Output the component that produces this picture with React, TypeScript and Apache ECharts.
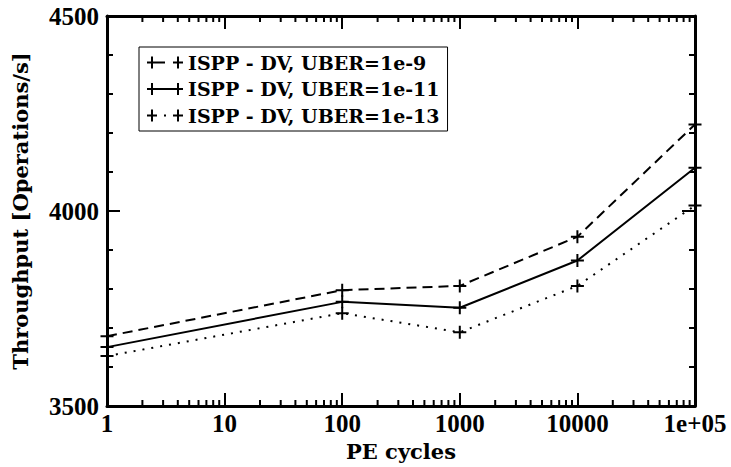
import React, { useEffect, useRef } from "react";
import * as echarts from "echarts";

// PE cycles (x, log scale)
const peCycles = [1, 100, 1000, 10000, 100000];
// Throughput [Operations/s]
const uber9 = [3679, 3797, 3808, 3934, 4222];
const uber11 = [3651, 3767, 3752, 3873, 4111];
const uber13 = [3628, 3738, 3689, 3808, 4014];

const seriesNames = [
  "ISPP - DV, UBER=1e-9",
  "ISPP - DV, UBER=1e-11",
  "ISPP - DV, UBER=1e-13",
];

const xTickLabels = ["1", "10", "100", "1000", "10000", "1e+05"];
const xMinorTicks = [
  2, 3, 4, 5, 6, 7, 8, 9,
  20, 30, 40, 50, 60, 70, 80, 90,
  200, 300, 400, 500, 600, 700, 800, 900,
  2000, 3000, 4000, 5000, 6000, 7000, 8000, 9000,
  20000, 30000, 40000, 50000, 60000, 70000, 80000, 90000,
];
const yMin = 3500;
const yMax = 4500;
const yInterval = 500;

const PLUS = "path://M5.5,0H7.5V5.5H13V7.5H7.5V13H5.5V7.5H0V5.5H5.5Z";
const PLUS_L = "M0,5H10V7H0Z M4,0H6V12H4Z";
const PLUS_R = "M26,5H36V7H26Z M30,0H32V12H30Z";
const ICON_DASH = `path://${PLUS_L} M10,5H18V7H10Z ${PLUS_R}`;
const ICON_SOLID = `path://${PLUS_L} M10,5H26V7H10Z ${PLUS_R}`;
const ICON_DOT = `path://${PLUS_L} M17,5H19V7H17Z ${PLUS_R}`;

const TIMES = "Liberation Serif";
const WIDE_SERIF = "DejaVu Serif";

export default function App() {
  const ref = useRef<HTMLDivElement>(null);

  useEffect(() => {
    if (!ref.current) return;
    const chart = echarts.init(ref.current, null, { renderer: "svg" });

    const axisLine = { show: true, lineStyle: { color: "#000", width: 3 } };
    const mkLine = (vals: number[]) => peCycles.map((x, i) => [x, vals[i]]);

    const lineSeries = (name: string, vals: number[], type: any) => ({
      name,
      type: "line",
      data: mkLine(vals),
      symbol: PLUS,
      symbolSize: 13,
      showSymbol: true,
      clip: false,
      itemStyle: { color: "#000" },
      lineStyle: { color: "#000", width: 2, type },
      z: 3,
    });

    chart.setOption({
      animation: false,
      backgroundColor: "#fff",
      grid: { left: 107, right: 36, top: 16, bottom: 61 },
      xAxis: [
        {
          type: "log",
          logBase: 10,
          min: 1,
          max: 100000,
          name: "PE cycles",
          nameLocation: "middle",
          nameGap: 31,
          nameTextStyle: {
            fontFamily: WIDE_SERIF,
            fontWeight: "bold",
            fontSize: 21,
            color: "#000",
          },
          axisLine,
          axisTick: { show: true, inside: true, length: 13, lineStyle: { color: "#000", width: 2 } },
          minorTick: { show: false },
          splitLine: { show: false },
          axisLabel: {
            margin: 5,
            fontFamily: TIMES,
            fontWeight: "bold",
            fontSize: 25,
            color: "#000",
            formatter: (v: number) => xTickLabels[Math.round(Math.log10(v))] ?? "",
          },
        },
        {
          type: "log",
          logBase: 10,
          min: 1,
          max: 100000,
          position: "top",
          axisLine,
          axisTick: { show: true, inside: true, length: 13, lineStyle: { color: "#000", width: 2 } },
          axisLabel: { show: false },
          splitLine: { show: false },
        },
      ],
      yAxis: [
        {
          type: "value",
          min: yMin,
          max: yMax,
          interval: yInterval,
          name: "Throughput [Operations/s]",
          nameLocation: "middle",
          nameGap: 76,
          nameTextStyle: {
            fontFamily: WIDE_SERIF,
            fontWeight: "bold",
            fontSize: 21,
            color: "#000",
          },
          axisLine,
          axisTick: { show: true, inside: true, length: 13, lineStyle: { color: "#000", width: 2 } },
          minorTick: { show: true, splitNumber: 5, length: 6, lineStyle: { color: "#000", width: 2 } },
          splitLine: { show: false },
          axisLabel: {
            margin: 8,
            fontFamily: TIMES,
            fontWeight: "bold",
            fontSize: 25,
            color: "#000",
            formatter: (v: number) => String(v),
          },
        },
        {
          type: "value",
          min: yMin,
          max: yMax,
          interval: yInterval,
          position: "right",
          axisLine,
          axisTick: { show: true, inside: true, length: 13, lineStyle: { color: "#000", width: 2 } },
          minorTick: { show: true, splitNumber: 5, length: 6, lineStyle: { color: "#000", width: 2 } },
          splitLine: { show: false },
          axisLabel: { show: false },
        },
      ],
      legend: {
        orient: "vertical",
        left: 139,
        top: 47,
        padding: [6, 8, 6, 8],
        itemGap: 7.5,
        itemWidth: 36,
        itemHeight: 12,
        borderColor: "#000",
        borderWidth: 1,
        backgroundColor: "#fff",
        selectedMode: false,
        textStyle: {
          fontFamily: WIDE_SERIF,
          fontWeight: "bold",
          fontSize: 19,
          color: "#000",
        },
        data: [
          { name: seriesNames[0], icon: ICON_DASH },
          { name: seriesNames[1], icon: ICON_SOLID },
          { name: seriesNames[2], icon: ICON_DOT },
        ],
      },
      series: [
        lineSeries(seriesNames[0], uber9, [10, 6]),
        lineSeries(seriesNames[1], uber11, "solid"),
        lineSeries(seriesNames[2], uber13, [2, 7]),
        {
          type: "custom",
          name: "minorTicks",
          silent: true,
          clip: false,
          z: 4,
          data: xMinorTicks.map((v) => [v, yMin]),
          encode: { x: 0, y: 1 },
          renderItem: (_params: any, api: any) => {
            const b = api.coord([api.value(0), yMin]);
            const t = api.coord([api.value(0), yMax]);
            const style = { stroke: "#000", lineWidth: 2 };
            return {
              type: "group",
              children: [
                { type: "line", shape: { x1: b[0], y1: b[1], x2: b[0], y2: b[1] - 6 }, style },
                { type: "line", shape: { x1: t[0], y1: t[1], x2: t[0], y2: t[1] + 6 }, style },
              ],
            };
          },
        },
      ],
    });

    return () => chart.dispose();
  }, []);

  return (
    <div
      ref={ref}
      style={{ position: "fixed", left: 0, top: 0, width: 731, height: 467 }}
    />
  );
}
